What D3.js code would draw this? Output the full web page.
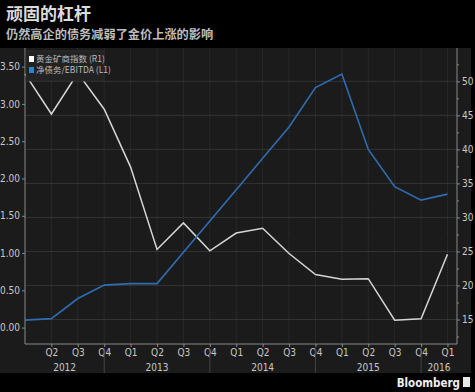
<!DOCTYPE html>
<html>
<head>
<meta charset="utf-8">
<script src="https://cdn.jsdelivr.net/npm/d3@7"></script>
<style>
  body { margin: 0; background: #000; }
  svg text { font-family: "Noto Sans CJK SC", "Noto Sans", sans-serif; }
</style>
</head>
<body>
<div id="chart"></div>
<script>
// quarters, Q1 2012 .. Q1 2016
var quarters = ["Q1","Q2","Q3","Q4","Q1","Q2","Q3","Q4","Q1","Q2","Q3","Q4","Q1","Q2","Q3","Q4","Q1"];
var years = ["2012","2013","2014","2015","2016"];
// net debt / EBITDA (left axis)
var netDebt = [0.10,0.12,0.39,0.57,0.59,0.59,1.01,1.43,1.85,2.27,2.69,3.22,3.40,2.39,1.89,1.71,1.79];
// gold miners index (right axis)
var goldIdx = [51.1,45.2,51.2,45.9,37.4,25.3,29.2,25.1,27.7,28.4,24.7,21.6,20.9,21.0,14.9,15.1,24.6];
var leftTicks = [0, 0.5, 1, 1.5, 2, 2.5, 3, 3.5];
var rightTicks = [15, 20, 25, 30, 35, 40, 45, 50];
var rightMinor = [12.5, 17.5, 22.5, 27.5, 32.5, 37.5, 42.5, 47.5, 52.5];
var legendLabels = ["黄金矿商指数 (R1)", "净债务/EBITDA (L1)"];

var width = 475, height = 392;
var mLeft = 25, mRight = 457, mTop = 48, mBottom = 344, panelBottom = 373;
var numFont = '"Liberation Sans Narrow", "DejaVu Sans Condensed", sans-serif';

var svg = d3.select('#chart').append('svg')
  .attr('width', width).attr('height', height);

svg.append('rect').attr('width', width).attr('height', height).style('fill', '#000');
// chart panel
svg.append('rect').attr('x', 0).attr('y', mTop).attr('width', 471).attr('height', panelBottom - mTop)
  .style('fill', '#1b1b1b');

// titles
svg.append('text').attr('x', 6).attr('y', 20).text('顽固的杠杆')
  .style('fill', '#dcdcdc').style('font-size', '17px').style('font-weight', 'bold');
svg.append('text').attr('x', 6).attr('y', 39).text('仍然高企的债务减弱了金价上涨的影响')
  .style('fill', '#bdbdbd').style('font-size', '12.2px').style('font-weight', 'bold');

var x = d3.scaleLinear().domain([0, 16.36]).range([mLeft, mRight]);
var yL = d3.scaleLinear().domain([-0.22, 3.75]).range([mBottom, mTop]);
var yR = d3.scaleLinear().domain([11.4, 54.9]).range([mBottom, mTop]);

// grid
svg.selectAll('.hgrid').data(rightTicks).enter().append('line')
  .attr('x1', mLeft).attr('x2', mRight)
  .attr('y1', function(d){ return yR(d); }).attr('y2', function(d){ return yR(d); })
  .style('stroke', '#333').style('stroke-width', 1);
svg.selectAll('.vgrid').data(d3.range(1, quarters.length)).enter().append('line')
  .attr('x1', function(d){ return x(d); }).attr('x2', function(d){ return x(d); })
  .attr('y1', mTop).attr('y2', mBottom)
  .style('stroke', '#333').style('stroke-dasharray', '1,1');

// axes
var axisL = svg.append('g').attr('transform', 'translate(' + mLeft + ',0)')
  .call(d3.axisLeft(yL).tickValues(leftTicks).tickFormat(d3.format('.2f')).tickSize(3).tickPadding(2));
var axisR = svg.append('g').attr('transform', 'translate(' + mRight + ',0)')
  .call(d3.axisRight(yR).tickValues(rightTicks).tickSize(3).tickPadding(2));
var axisRm = svg.append('g').attr('transform', 'translate(' + mRight + ',0)')
  .call(d3.axisRight(yR).tickValues(rightMinor).tickSize(2).tickFormat(''));
var axisB = svg.append('g').attr('transform', 'translate(0,' + mBottom + ')')
  .call(d3.axisBottom(x).tickValues(d3.range(1, quarters.length))
    .tickFormat(function(d){ return quarters[d]; }).tickSize(3).tickPadding(2));

svg.selectAll('.domain').style('stroke', '#8a8a8a');
svg.selectAll('.tick line').style('stroke', '#8a8a8a');
svg.selectAll('.tick text').style('fill', '#c8c8c8').style('font-size', '10px')
  .style('font-family', numFont);
axisB.select('.domain').attr('d', 'M' + mLeft + ',0H' + mRight);
axisL.select('.domain').attr('d', 'M0,' + mTop + 'V' + mBottom);
axisR.select('.domain').attr('d', 'M0,' + mTop + 'V' + mBottom);
axisRm.select('.domain').remove();

// year separators (at Q4) and year labels
var seps = [3, 7, 11, 15];
svg.selectAll('.sep').data(seps).enter().append('line')
  .attr('x1', function(d){ return x(d); }).attr('x2', function(d){ return x(d); })
  .attr('y1', mBottom + 4).attr('y2', panelBottom)
  .style('stroke', '#444').style('stroke-width', 1);
var bounds = [0].concat(seps).concat([16.36]);
svg.selectAll('.year').data(years).enter().append('text')
  .attr('x', function(d, i){ return (x(bounds[i]) + x(bounds[i + 1])) / 2; })
  .attr('y', 371)
  .attr('text-anchor', 'middle')
  .text(function(d){ return d; })
  .style('fill', '#c8c8c8').style('font-size', '10px')
  .style('font-family', numFont);

// lines
var lineL = d3.line().x(function(d, i){ return x(i); }).y(function(d){ return yL(d); });
var lineR = d3.line().x(function(d, i){ return x(i); }).y(function(d){ return yR(d); });
svg.append('path').datum(goldIdx).attr('d', lineR)
  .style('fill', 'none').style('stroke', '#d6d6d6').style('stroke-width', 1.5);
svg.append('path').datum(netDebt).attr('d', lineL)
  .style('fill', 'none').style('stroke', '#2f6db3').style('stroke-width', 1.6);

// legend
var legend = svg.append('g').attr('class', 'legend');
legend.append('rect').attr('x', 26).attr('y', 51).attr('width', 78).attr('height', 30)
  .style('fill', '#222').style('stroke', '#2c2c2c');
legend.selectAll('.legend-square').data(['#ffffff', '#2f7fd8']).enter().append('rect')
  .attr('x', 29).attr('y', function(d, i){ return 56 + i * 11; })
  .attr('width', 5).attr('height', 6)
  .style('fill', function(d){ return d; });
legend.selectAll('.legend-label').data(legendLabels).enter().append('text')
  .attr('x', 36).attr('y', function(d, i){ return 62 + i * 11; })
  .text(function(d){ return d; })
  .style('fill', '#bbbbbb').style('font-size', '8.5px');

// Bloomberg mark
svg.append('text').attr('x', 460).attr('y', 387).attr('text-anchor', 'end')
  .text('Bloomberg')
  .style('fill', '#f0f0f0').style('font-size', '11.5px').style('font-weight', 'bold')
  .style('font-family', numFont);
svg.append('rect').attr('x', 463).attr('y', 377).attr('width', 7).attr('height', 10)
  .style('fill', '#e8e8e8');
</script>
</body>
</html>
